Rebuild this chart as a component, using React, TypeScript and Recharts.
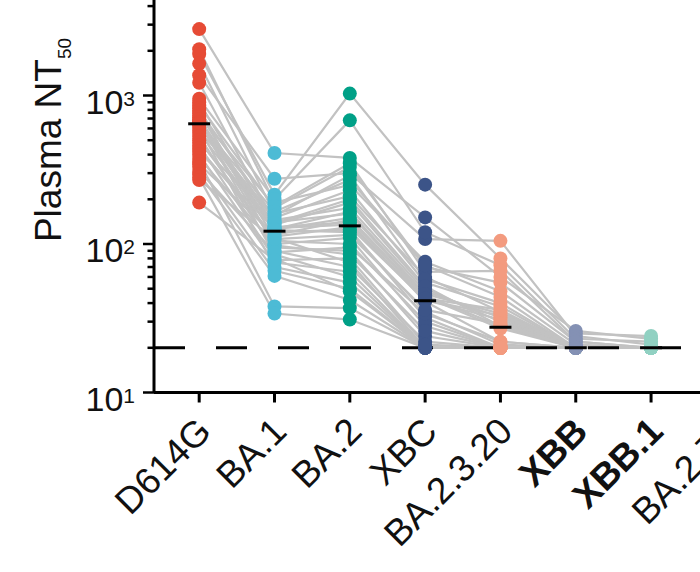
import React from "react";
import {
  ComposedChart,
  Line,
  Scatter,
  XAxis,
  YAxis,
  ReferenceLine,
} from "recharts";

const FONT = "'Liberation Sans', Arial, Helvetica, sans-serif";

const CATEGORIES = ["D614G", "BA.1", "BA.2", "XBC", "BA.2.3.20", "XBB", "XBB.1", "BA.2.75"];
const BOLD_LABELS = ["XBB", "XBB.1"];
const COLORS = ["#E64B35", "#4DBBD5", "#00A087", "#3C5488", "#F39B7F", "#8491B4", "#91D1C2"];

// one entry per participant, same order in every array
const D614G = [2800, 2050, 1900, 1640, 1370, 1220, 950, 900, 860, 820, 790, 760, 730, 710, 690, 670, 660, 655, 650, 650, 640, 610, 580, 560, 530, 500, 480, 460, 440, 420, 400, 380, 360, 345, 330, 310, 295, 280, 270, 190];
const BA1 = [410, 190, 215, 160, 275, 140, 200, 130, 175, 95, 150, 120, 180, 110, 135, 85, 128, 165, 100, 145, 124, 70, 155, 125, 90, 105, 138, 80, 112, 126, 75, 98, 38, 115, 66, 88, 61, 34, 108, 78];
const BA2 = [380, 250, 1030, 210, 300, 160, 680, 140, 330, 90, 230, 125, 350, 75, 190, 60, 135, 270, 110, 175, 120, 55, 290, 150, 70, 100, 200, 48, 130, 165, 65, 85, 37, 145, 50, 95, 42, 31, 115, 80];
const XBC = [151, 76, 251, 60, 108, 45, 120, 41, 70, 24, 55, 32, 65, 20, 50, 20, 42, 72, 28, 48, 35, 20, 58, 44, 22, 30, 52, 20, 42, 46, 20, 26, 20, 43, 20, 34, 20, 20, 36, 21];
const BA2320 = [60, 48, 80, 35, 105, 28, 72, 22, 55, 20, 38, 20, 66, 20, 30, 20, 31, 44, 20, 32, 21, 20, 40, 27, 20, 20, 28, 20, 33, 34, 20, 20, 20, 36, 20, 22, 20, 20, 29, 20];
const XBB = [26, 21, 25, 20, 24, 20, 23, 20, 22, 20, 20, 20, 22, 20, 20, 20, 20, 20, 20, 20, 20, 20, 20, 20, 20, 20, 20, 20, 20, 20, 20, 20, 20, 20, 20, 20, 20, 20, 20, 20];
const XBB1 = [23, 20, 24, 20, 21, 20, 22, 20, 20, 20, 20, 20, 20, 20, 20, 20, 20, 20, 20, 20, 20, 20, 20, 20, 20, 20, 20, 20, 20, 20, 20, 20, 20, 20, 20, 20, 20, 20, 20, 20];

const SERIES = [D614G, BA1, BA2, XBC, BA2320, XBB, XBB1];
const LOD = 20;

const Y_TICKS: number[] = [];
for (let e = 1; e <= 3; e++) {
  for (let m = 1; m <= 9; m++) Y_TICKS.push(m * Math.pow(10, e));
}
Y_TICKS.push(10000);

function median(arr: number[]): number {
  const s = [...arr].sort((a, b) => a - b);
  const n = s.length;
  return n % 2 ? s[(n - 1) / 2] : (s[n / 2 - 1] + s[n / 2]) / 2;
}

const N = D614G.length;
const rows = SERIES.map((vals, i) => {
  const row: Record<string, number> = { x: i };
  vals.forEach((v, k) => (row[`p${k}`] = v));
  return row;
});
const medians = SERIES.map((vals, i) => ({ x: i, y: median(vals) }));

function YTick(props: any) {
  const { x, y, payload } = props;
  const exp = Math.log10(payload.value);
  const major = Math.abs(exp - Math.round(exp)) < 1e-6;
  // 10^4 sits above the visible crop, so only its tick mark is drawn
  const showLabel = major && payload.value < 10000;
  return (
    <g>
      <line x1={x - (major ? 11 : 6.5)} x2={x} y1={y} y2={y} stroke="#000" strokeWidth={2.5} />
      {showLabel && (
        <text x={x - 19} y={y + 18} textAnchor="end" fontSize={34} fontFamily={FONT} fill="#111">
          10
          <tspan dy={-8} fontSize={21}>
            {Math.round(exp)}
          </tspan>
        </text>
      )}
    </g>
  );
}

function XTick(props: any) {
  const { x, y, payload } = props;
  const label = CATEGORIES[payload.value] ?? "";
  const bold = BOLD_LABELS.includes(label);
  const tx = x + 14;
  const ty = y + 31;
  return (
    <text
      x={tx}
      y={ty}
      transform={`rotate(-45, ${tx}, ${ty})`}
      textAnchor="end"
      fontSize={37}
      fontWeight={bold ? 700 : 400}
      fontFamily={FONT}
      fill="#111"
    >
      {label}
    </text>
  );
}

function YLabel() {
  return (
    <text
      x={61}
      y={203}
      transform="rotate(-90, 61, 203)"
      textAnchor="middle"
      fontSize={37}
      fontFamily={FONT}
      fill="#111"
    >
      Plasma NT
      <tspan dy={10} fontSize={19}>
        50
      </tspan>
    </text>
  );
}

export default function App() {
  return (
    <div
      style={{
        position: "fixed",
        left: 0,
        top: 0,
        width: 700,
        height: 572,
        overflow: "hidden",
        background: "#fff",
      }}
    >
      <div style={{ position: "absolute", left: 0, top: -63 }}>
        <ComposedChart
          width={900}
          height={616}
          data={rows}
          margin={{ top: 10, right: 23, bottom: 0, left: 0 }}
        >
          <XAxis
            dataKey="x"
            type="number"
            domain={[-0.6, 9]}
            ticks={CATEGORIES.map((_, i) => i)}
            interval={0}
            allowDataOverflow
            height={160.5}
            tick={<XTick />}
            tickSize={10}
            tickMargin={0}
            stroke="#000"
            strokeWidth={3}
            tickLine={{ stroke: "#000", strokeWidth: 3 }}
          />
          <YAxis
            type="number"
            scale="log"
            domain={[10, 10000]}
            ticks={Y_TICKS}
            interval={0}
            allowDataOverflow
            width={154}
            tick={<YTick />}
            tickLine={false}
            tickSize={0}
            tickMargin={0}
            stroke="#000"
            strokeWidth={3}
            label={{ content: <YLabel /> }}
          />
          {Array.from({ length: N }, (_, k) => (
            <Line
              key={k}
              dataKey={`p${k}`}
              stroke="#c2c2c2"
              strokeWidth={2.2}
              dot={false}
              activeDot={false}
              isAnimationActive={false}
            />
          ))}
          {SERIES.map((vals, i) => (
            <Scatter
              key={CATEGORIES[i]}
              data={vals.map((v) => ({ x: i, y: v }))}
              dataKey="y"
              isAnimationActive={false}
              shape={(p: any) => <circle cx={p.cx} cy={p.cy} r={7} fill={COLORS[i]} />}
            />
          ))}
          <ReferenceLine
            y={LOD}
            stroke="#000"
            strokeWidth={3}
            strokeDasharray="31 31"
          />
          <Scatter
            data={medians}
            dataKey="y"
            isAnimationActive={false}
            shape={(p: any) => (
              <line x1={p.cx - 11} x2={p.cx + 11} y1={p.cy} y2={p.cy} stroke="#000" strokeWidth={3} />
            )}
          />
        </ComposedChart>
      </div>
    </div>
  );
}
